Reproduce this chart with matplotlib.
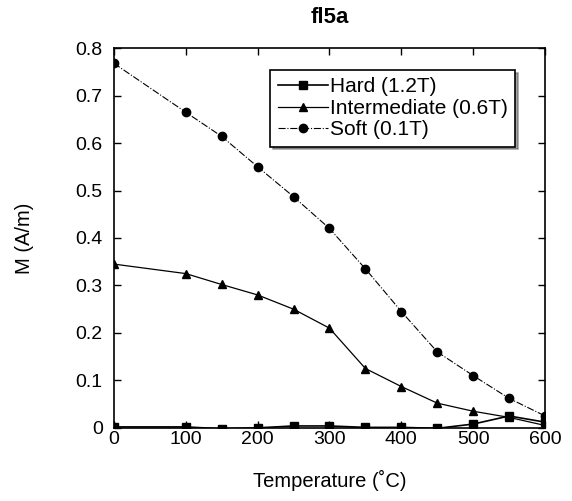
#!/usr/bin/env python3
"""
fl5a: magnetisation vs temperature for hard / intermediate / soft fractions
"""

import matplotlib
matplotlib.use('Agg')
import matplotlib.pyplot as plt
from matplotlib import rcParams

rcParams['font.family'] = ['Liberation Sans', 'DejaVu Sans']

# ==================== Data ====================
temp_hard = [0, 100, 150, 200, 250, 300, 350, 400, 450, 500, 550, 600]
hard = [0.002, 0.002, -0.002, 0.0, 0.004, 0.004, 0.001, 0.001, -0.001, 0.008, 0.025, 0.012]

temp_inter = [0, 100, 150, 200, 250, 300, 350, 400, 450, 500, 550, 600]
inter = [0.345, 0.325, 0.302, 0.280, 0.250, 0.210, 0.125, 0.087, 0.052, 0.035, 0.022, 0.005]

temp_soft = [0, 100, 150, 200, 250, 300, 350, 400, 450, 500, 550, 600]
soft = [0.768, 0.665, 0.614, 0.550, 0.487, 0.420, 0.335, 0.245, 0.160, 0.110, 0.062, 0.025]

x_ticks = [0, 100, 200, 300, 400, 500, 600]
y_ticks = [0, 0.1, 0.2, 0.3, 0.4, 0.5, 0.6, 0.7, 0.8]
y_ticklabels = ['0', '0.1', '0.2', '0.3', '0.4', '0.5', '0.6', '0.7', '0.8']

fig = plt.figure(figsize=(5.72, 5.01), dpi=100)
ax = fig.add_axes([0.199, 0.146, 0.754, 0.758])

ax.plot(temp_hard, hard, color='black', linewidth=1.2, linestyle='-',
        marker='s', markersize=6, label='Hard (1.2T)')
ax.plot(temp_inter, inter, color='black', linewidth=0.9, linestyle='-',
        marker='^', markersize=6, label='Intermediate (0.6T)')
ax.plot(temp_soft, soft, color='black', linewidth=0.8, linestyle='-.',
        marker='o', markersize=6, label='Soft (0.1T)')

ax.set_xlim(0, 600)
ax.set_ylim(0, 0.8)
ax.set_xticks(x_ticks)
ax.set_yticks(y_ticks)
ax.set_yticklabels(y_ticklabels)
ax.tick_params(direction='in', top=True, right=True, length=5,
               labelsize=14, width=1)
ax.tick_params(axis='x', pad=2)
ax.tick_params(axis='y', pad=8)
for sp in ax.spines.values():
    sp.set_linewidth(1.2)

ax.set_xlabel('Temperature (˚C)', fontsize=14.5, labelpad=16)
ax.set_ylabel('M (A/m)', fontsize=14.5, labelpad=30)
ax.set_title('fl5a', fontsize=16, fontweight='bold', pad=18)

leg = ax.legend(loc='upper right', bbox_to_anchor=(0.93, 0.942),
                fontsize=15, frameon=True, fancybox=False, shadow=True,
                handlelength=2.4, handletextpad=0.1, borderpad=0.35,
                labelspacing=0.12, borderaxespad=0)
leg.get_frame().set_edgecolor('black')
leg.get_frame().set_linewidth(1.2)

fig.savefig('out.png', dpi=100, facecolor='white')
plt.close(fig)
